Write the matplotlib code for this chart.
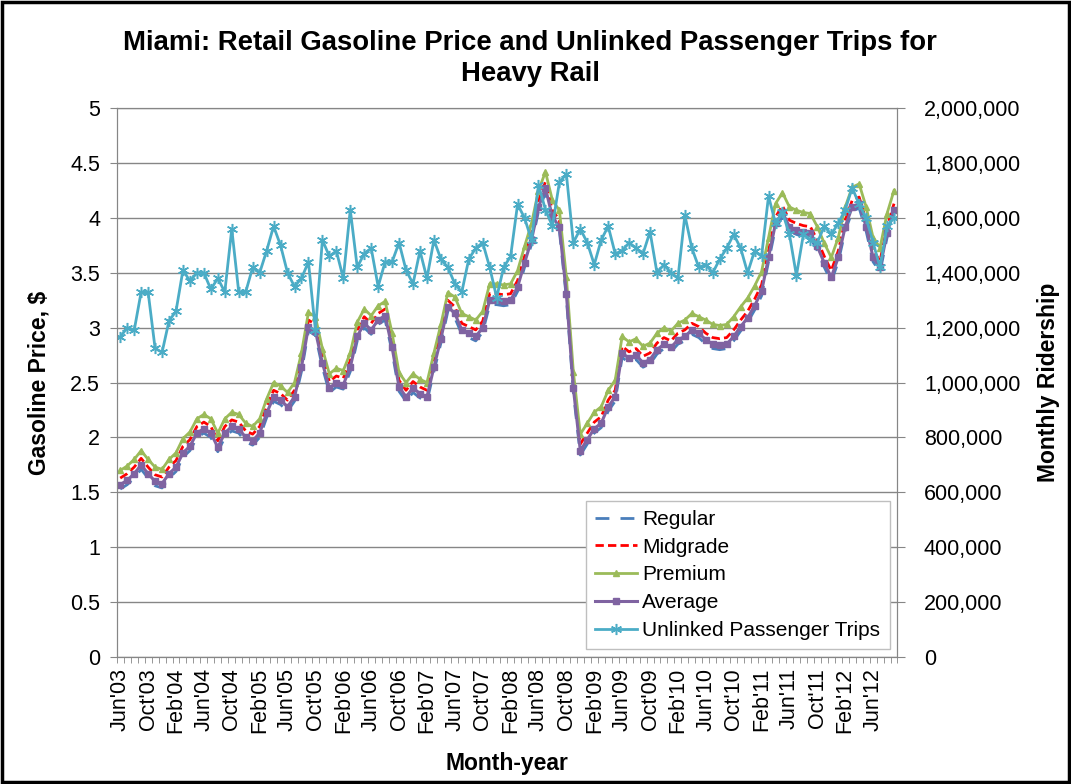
import numpy as np
import matplotlib
matplotlib.use("Agg")
import matplotlib.pyplot as plt
from matplotlib.ticker import FuncFormatter
from matplotlib.patches import Rectangle

plt.rcParams['font.family'] = ['Liberation Sans', 'DejaVu Sans']

# monthly values, Jun'03 .. Sep'12
regular = [1.53, 1.57, 1.63, 1.71, 1.63, 1.56, 1.54, 1.63, 1.69, 1.82, 1.88, 2.00,
           2.04, 2.00, 1.87, 2.00, 2.06, 2.04, 1.96, 1.93, 2.00, 2.18, 2.33, 2.30,
           2.24, 2.33, 2.60, 2.97, 2.93, 2.64, 2.41, 2.46, 2.44, 2.60, 2.88, 3.00,
           2.94, 3.03, 3.07, 2.78, 2.42, 2.33, 2.41, 2.36, 2.33, 2.60, 2.86, 3.15,
           3.09, 2.94, 2.91, 2.88, 2.96, 3.21, 3.21, 3.20, 3.21, 3.33, 3.55, 3.76,
           4.06, 4.23, 3.97, 3.88, 3.27, 2.41, 1.84, 1.94, 2.04, 2.09, 2.24, 2.33,
           2.73, 2.68, 2.71, 2.64, 2.67, 2.76, 2.81, 2.78, 2.85, 2.88, 2.94, 2.91,
           2.85, 2.81, 2.80, 2.81, 2.88, 2.97, 3.05, 3.16, 3.29, 3.60, 3.91, 4.01,
           3.88, 3.85, 3.83, 3.82, 3.70, 3.55, 3.42, 3.60, 3.88, 4.06, 4.09, 3.88,
           3.60, 3.51, 3.82, 4.03]
midgrade = [1.63, 1.67, 1.73, 1.81, 1.73, 1.66, 1.64, 1.73, 1.79, 1.92, 1.98, 2.10,
            2.14, 2.10, 1.97, 2.10, 2.16, 2.14, 2.06, 2.03, 2.10, 2.28, 2.43, 2.40,
            2.34, 2.43, 2.70, 3.07, 3.03, 2.74, 2.51, 2.56, 2.54, 2.70, 2.98, 3.10,
            3.04, 3.13, 3.17, 2.88, 2.52, 2.43, 2.51, 2.46, 2.43, 2.70, 2.96, 3.25,
            3.19, 3.04, 3.01, 2.98, 3.06, 3.31, 3.31, 3.30, 3.31, 3.43, 3.65, 3.86,
            4.16, 4.33, 4.07, 3.98, 3.37, 2.51, 1.94, 2.04, 2.14, 2.19, 2.34, 2.43,
            2.83, 2.78, 2.81, 2.74, 2.77, 2.86, 2.91, 2.88, 2.95, 2.98, 3.04, 3.01,
            2.95, 2.91, 2.90, 2.91, 2.98, 3.07, 3.15, 3.26, 3.39, 3.70, 4.01, 4.11,
            3.98, 3.95, 3.93, 3.92, 3.80, 3.65, 3.52, 3.70, 3.98, 4.16, 4.19, 3.98,
            3.70, 3.61, 3.92, 4.13]
premium = [1.70, 1.74, 1.80, 1.88, 1.80, 1.73, 1.71, 1.80, 1.86, 1.99, 2.05, 2.17,
           2.21, 2.17, 2.04, 2.17, 2.23, 2.21, 2.13, 2.10, 2.17, 2.35, 2.50, 2.47,
           2.41, 2.50, 2.77, 3.14, 3.10, 2.81, 2.58, 2.63, 2.61, 2.77, 3.05, 3.17,
           3.11, 3.20, 3.24, 2.95, 2.59, 2.50, 2.58, 2.53, 2.50, 2.77, 3.03, 3.32,
           3.28, 3.13, 3.10, 3.07, 3.15, 3.40, 3.40, 3.39, 3.40, 3.52, 3.74, 3.95,
           4.25, 4.42, 4.16, 4.07, 3.46, 2.60, 2.03, 2.13, 2.23, 2.28, 2.43, 2.52,
           2.92, 2.87, 2.90, 2.83, 2.86, 2.95, 3.00, 2.97, 3.04, 3.07, 3.13, 3.10,
           3.07, 3.03, 3.02, 3.03, 3.10, 3.19, 3.27, 3.38, 3.51, 3.82, 4.13, 4.23,
           4.10, 4.07, 4.05, 4.04, 3.92, 3.77, 3.64, 3.82, 4.10, 4.28, 4.31, 4.10,
           3.82, 3.73, 4.04, 4.25]
average = [1.57, 1.61, 1.67, 1.75, 1.67, 1.60, 1.58, 1.67, 1.73, 1.86, 1.92, 2.04,
           2.08, 2.04, 1.91, 2.04, 2.10, 2.08, 2.00, 1.97, 2.04, 2.22, 2.37, 2.34,
           2.28, 2.37, 2.64, 3.01, 2.97, 2.68, 2.45, 2.50, 2.48, 2.64, 2.92, 3.04,
           2.98, 3.07, 3.11, 2.82, 2.46, 2.37, 2.45, 2.40, 2.37, 2.64, 2.90, 3.19,
           3.13, 2.98, 2.95, 2.92, 3.00, 3.25, 3.25, 3.24, 3.25, 3.37, 3.59, 3.80,
           4.10, 4.27, 4.01, 3.92, 3.31, 2.45, 1.88, 1.98, 2.08, 2.13, 2.28, 2.37,
           2.77, 2.72, 2.75, 2.68, 2.71, 2.80, 2.85, 2.82, 2.89, 2.92, 2.98, 2.95,
           2.89, 2.85, 2.84, 2.85, 2.92, 3.01, 3.09, 3.20, 3.33, 3.64, 3.95, 4.05,
           3.92, 3.89, 3.87, 3.86, 3.74, 3.59, 3.46, 3.64, 3.92, 4.10, 4.13, 3.92,
           3.64, 3.55, 3.86, 4.07]
trips = [1166000, 1200000, 1190000, 1330000, 1330000, 1125000, 1110000, 1225000,
         1260000, 1410000, 1370000, 1400000, 1400000, 1340000, 1380000, 1330000,
         1560000, 1330000, 1330000, 1420000, 1400000, 1480000, 1570000, 1500000,
         1400000, 1350000, 1380000, 1440000, 1190000, 1520000, 1460000, 1480000,
         1380000, 1630000, 1420000, 1470000, 1490000, 1350000, 1440000, 1440000,
         1510000, 1410000, 1360000, 1480000, 1380000, 1520000, 1450000, 1420000,
         1360000, 1330000, 1450000, 1490000, 1510000, 1420000, 1310000, 1420000,
         1460000, 1650000, 1600000, 1520000, 1720000, 1630000, 1570000, 1730000,
         1760000, 1510000, 1560000, 1510000, 1430000, 1520000, 1570000, 1470000,
         1480000, 1510000, 1490000, 1470000, 1550000, 1400000, 1430000, 1400000,
         1380000, 1610000, 1490000, 1420000, 1430000, 1400000, 1450000, 1490000,
         1540000, 1490000, 1400000, 1480000, 1460000, 1680000, 1580000, 1620000,
         1540000, 1390000, 1540000, 1520000, 1510000, 1570000, 1540000, 1580000,
         1630000, 1710000, 1650000, 1600000, 1510000, 1420000, 1570000, 1600000]
tick_labels = ["Jun'03", "Oct'03", "Feb'04", "Jun'04", "Oct'04", "Feb'05", "Jun'05",
               "Oct'05", "Feb'06", "Jun'06", "Oct'06", "Feb'07", "Jun'07", "Oct'07",
               "Feb'08", "Jun'08", "Oct'08", "Feb'09", "Jun'09", "Oct'09", "Feb'10",
               "Jun'10", "Oct'10", "Feb'11", "Jun'11", "Oct'11", "Feb'12", "Jun'12"]

x = np.arange(len(average))
grid_col = '#868686'

fig = plt.figure(figsize=(10.71, 7.84), dpi=100)
ax = fig.add_axes([0.109, 0.162, 0.729, 0.700])
ax2 = ax.twinx()

l1, = ax.plot(x, regular, color='#4A7EBB', lw=2, dashes=(5, 4), label='Regular')
l2, = ax.plot(x, midgrade, color='#FF0000', lw=2, dashes=(3, 1.5), label='Midgrade')
l3, = ax.plot(x, premium, color='#9BBB59', lw=2, marker='^', ms=4, label='Premium')
l4, = ax.plot(x, average, color='#7F63A1', lw=2.2, marker='s', ms=4, label='Average')
l5, = ax2.plot(x, trips, color='#4BACC6', lw=2, marker=(6, 2, 0), ms=8,
               mew=1.1, label='Unlinked Passenger Trips')

ax.set_xlim(-0.5, len(x) - 0.5)
ax.set_ylim(0, 5)
ax.set_yticks(np.arange(0, 5.01, 0.5))
ax.yaxis.set_major_formatter(FuncFormatter(lambda v, p: '{:g}'.format(v)))
ax2.set_ylim(0, 2000000)
ax2.set_yticks(np.arange(0, 2000001, 200000))
ax2.yaxis.set_major_formatter(FuncFormatter(lambda v, p: '{:,.0f}'.format(v)))

ax.set_xticks(x[::4])
ax.set_xticklabels(tick_labels, rotation=90)
ax.set_xticks(np.arange(-0.5, len(x)), minor=True)
ax.grid(axis='y', color=grid_col, lw=1)
ax.set_axisbelow(True)

for a in (ax, ax2):
    for s in a.spines.values():
        s.set_color(grid_col)
ax.tick_params(axis='x', which='major', length=0, pad=8, labelsize=15.5)
ax.tick_params(axis='x', which='minor', length=4, color=grid_col)
ax.tick_params(axis='y', length=5, color=grid_col, pad=7, labelsize=15.5)
ax2.tick_params(axis='y', length=6, color=grid_col, pad=13, labelsize=15.5)

ax.set_ylabel('Gasoline Price, $', fontsize=16.5, fontweight='bold', labelpad=14)
ax2.set_ylabel('Monthly Ridership', fontsize=16.5, fontweight='bold', labelpad=12)
ax.set_xlabel('Month-year', fontsize=16.5, fontweight='bold', labelpad=13)
fig.suptitle('Miami: Retail Gasoline Price and Unlinked Passenger Trips for\nHeavy Rail',
             fontsize=19.8, fontweight='bold', y=0.962, x=0.495, linespacing=1.25)

leg = ax2.legend(handles=[l1, l2, l3, l4, l5], loc='lower right',
                 bbox_to_anchor=(0.99, 0.014), borderaxespad=0, fontsize=15,
                 fancybox=False, framealpha=1, edgecolor='#BFBFBF',
                 handlelength=2.0, handletextpad=0.25, labelspacing=0.42,
                 borderpad=0.45)

fig.patches.append(Rectangle((0.002, 0.002), 0.996, 0.996, transform=fig.transFigure,
                             fill=False, edgecolor='black', lw=2.5))

fig.savefig('out.png', dpi=100)
